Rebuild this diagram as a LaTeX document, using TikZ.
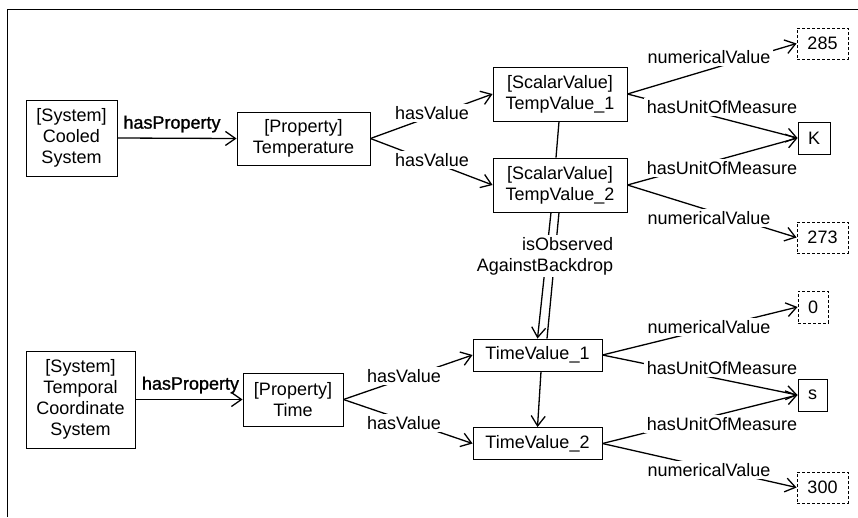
\documentclass[tikz,border=0pt]{standalone}
\usepackage{fontspec}
\setmainfont{Liberation Sans}
\newfontfamily\heavyfont[FakeBold=1.2]{Liberation Sans}
\usetikzlibrary{arrows.meta,positioning}

\begin{document}
\begin{tikzpicture}[
    x=1pt, y=-1pt,
    every node/.style={font=\fontsize{18}{21}\selectfont},
    box/.style={draw, line width=0.9pt, fill=white, align=center, inner sep=2pt},
    valbox/.style={draw, dash pattern=on 3pt off 2pt, line width=0.9pt, inner sep=2pt, minimum height=31pt},
    unitbox/.style={draw, line width=0.9pt, inner sep=2pt, minimum height=32pt},
    arr/.style={-{Straight Barb[length=10pt,width=14pt]}, line width=1.3pt},
    link/.style={line width=1.3pt},
    lbl/.style={fill=white, inner sep=2.5pt},
    boldlbl/.style={inner sep=1pt, font=\fontsize{18}{21}\heavyfont}
]
\useasboundingbox (0,0) rectangle (858,517);
% frame
\draw[line width=0.9pt] (7,517) -- (7,9) -- (858,9);

% Temperature part
\node[box, minimum width=91pt, minimum height=76pt] (cooled) at (71.5,138) {[System]\\Cooled\\System};
\node[box, minimum width=133pt, minimum height=53pt] (temp) at (303.5,138.5) {[Property]\\Temperature};
\node[box, minimum width=134pt, minimum height=54pt] (tv1) at (560,94) {[ScalarValue]\\TempValue\_1};
\node[box, minimum width=134pt, minimum height=54pt] (tv2) at (560,185) {[ScalarValue]\\TempValue\_2};
\node[valbox, minimum width=51pt] (n285) at (822.5,43.5) {285};
\node[unitbox, minimum width=32pt] (kelvin) at (814,138) {K};
\node[valbox, minimum width=51pt] (n273) at (822.5,237.5) {273};

% Time part
\node[box, minimum width=109pt, minimum height=97pt] (tcs) at (80.5,399.5) {[System]\\Temporal\\Coordinate\\System};
\node[box, minimum width=100pt, minimum height=53pt] (time) at (293,399.5) {[Property]\\Time};
\node[box, minimum width=129pt, minimum height=32pt] (tm1) at (537.5,355) {TimeValue\_1};
\node[box, minimum width=129pt, minimum height=32pt] (tm2) at (537.5,443.5) {TimeValue\_2};
\node[valbox, minimum width=30pt, minimum height=32pt] (n0) at (813,307) {0};
\node[unitbox, minimum width=29pt] (sec) at (812.5,395) {s};
\node[valbox, minimum width=51pt] (n300) at (822.5,487.5) {300};

% connectors
\draw[arr] (cooled.east) -- (temp.west);
\draw[arr] (temp.east) -- (tv1.west);
\draw[arr] (temp.east) -- (tv2.west);
\draw[arr] (tv1.east) -- (n285.west);
\draw[arr] (tv1.east) -- (kelvin.west);
\draw[arr] (tv2.east) -- (kelvin.west);
\draw[arr] (tv2.east) -- (n273.west);
\draw[link] ([xshift=-1pt]tv1.south) -- ([xshift=-4pt]tv2.north);
\draw[arr] ([xshift=-9pt]tv2.south) -- (tm1.north);
\draw[link] ([xshift=-1pt]tv2.south) -- ([xshift=9.5pt]tm1.north);

\draw[arr] (tcs.east) -- (time.west);
\draw[arr] (time.east) -- (tm1.west);
\draw[arr] (time.east) -- (tm2.west);
\draw[arr] (tm1.east) -- (n0.west);
\draw[arr] (tm1.east) -- (sec.west);
\draw[arr] (tm2.east) -- (sec.west);
\draw[arr] (tm2.east) -- (n300.west);
\draw[arr] ([xshift=3.5pt]tm1.south) -- (tm2.north);

% labels
\node[boldlbl] (hp1) at (172,124) {hasProperty};
\node[boldlbl] (hp2) at (190.5,385) {hasProperty};
\node[lbl] (hv1) at (432,113) {hasValue};
\node[lbl] (hv2) at (432,160) {hasValue};
\node[lbl] (nv1) at (709,57) {numericalValue};
\node[lbl] (hu1) at (722,107) {hasUnitOfMeasure};
\node[lbl] (hu2) at (722,168) {hasUnitOfMeasure};
\node[lbl] (nv2) at (709,218) {numericalValue};
\node[lbl, align=right] (obs) at (545,256) {isObserved\\AgainstBackdrop};
\node[lbl] (hv3) at (404,376) {hasValue};
\node[lbl] (hv4) at (404,423) {hasValue};
\node[lbl] (nv3) at (709,327) {numericalValue};
\node[lbl] (hu3) at (722,368) {hasUnitOfMeasure};
\node[lbl] (hu4) at (722,424) {hasUnitOfMeasure};
\node[lbl] (nv4) at (709,470) {numericalValue};
\end{tikzpicture}
\end{document}
